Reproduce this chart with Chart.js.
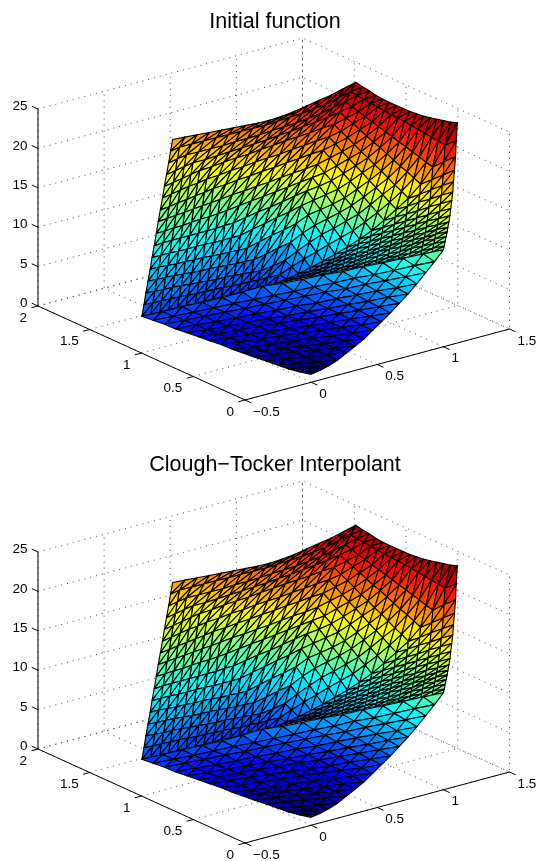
<!DOCTYPE html>
<html>
<head>
<meta charset="utf-8">
<style>
  html, body { margin: 0; padding: 0; background: #fff; overflow: hidden; }
  canvas { position: absolute; left: 0; }
</style>
<script src="https://cdn.jsdelivr.net/npm/chart.js@4/dist/chart.umd.min.js"></script>
</head>
<body>
<canvas id="chart1" width="539" height="443" style="top:0"></canvas>
<canvas id="chart2" width="539" height="418" style="top:443px"></canvas>
<script>
const titles = ["Initial function", "Clough\u2212Tocker Interpolant"];
const xTicks = [-0.5, 0, 0.5, 1, 1.5];
const xTickLabels = ["\u22120.5", "0", "0.5", "1", "1.5"];
const yTicks = [0, 0.5, 1, 1.5, 2];
const yTickLabels = ["0", "0.5", "1", "1.5", "2"];
const zTicks = [0, 5, 10, 15, 20, 25];

// every node is (i, j), x and y add up from these
const xAlongI = [0, 0.067, 0.133, 0.2, 0.267, 0.333, 0.4, 0.467, 0.533, 0.6, 0.667, 0.733, 0.8, 0.867, 0.933, 1, 1.066, 1.132, 1.198, 1.264, 1.33, 1.396, 1.462, 1.528, 1.594, 1.66, 1.726, 1.792, 1.858, 1.924, 1.99];
const yAlongI = [0, 0, 0, 0, 0, 0, 0, 0, 0, 0, 0, 0, 0, 0, 0, 0, -0.034, -0.067, -0.101, -0.135, -0.168, -0.202, -0.236, -0.269, -0.303, -0.337, -0.37, -0.404, -0.438, -0.471, -0.505];
const xAlongJ = [0, -0.037, -0.075, -0.112, -0.149, -0.187, -0.224, -0.261, -0.299, -0.336, -0.373, -0.411, -0.448, -0.485, -0.523, -0.56, -0.56, -0.56, -0.56, -0.56, -0.56, -0.56, -0.56, -0.56, -0.56, -0.56, -0.56, -0.56, -0.56, -0.56, -0.56];
const yAlongJ = [0, 0.061, 0.123, 0.184, 0.245, 0.307, 0.368, 0.429, 0.491, 0.552, 0.613, 0.675, 0.736, 0.797, 0.859, 0.92, 0.985, 1.051, 1.116, 1.181, 1.247, 1.312, 1.377, 1.443, 1.508, 1.573, 1.639, 1.704, 1.769, 1.835, 1.9];

// lower triangle, rows m, columns i: node (i, m - i)
const bottomZ = [
  [1.0],
  [1.1, 1.2],
  [1.3, 1.1, 1.5],
  [1.6, 1.3, 1.4, 1.9],
  [1.9, 1.7, 1.7, 2.0, 2.5],
  [2.2, 2.0, 2.0, 2.1, 2.5, 3.1],
  [2.5, 2.3, 2.2, 2.3, 2.6, 3.1, 3.7],
  [2.8, 2.5, 2.5, 2.6, 2.9, 3.2, 3.8, 4.5],
  [3.2, 3.0, 2.9, 3.0, 3.2, 3.5, 4.0, 4.5, 5.3],
  [3.5, 3.3, 3.3, 3.3, 3.5, 3.7, 4.1, 4.7, 5.3, 6.1],
  [3.8, 3.6, 3.6, 3.7, 3.8, 4.1, 4.4, 4.9, 5.5, 6.2, 7.0],
  [4.1, 3.9, 3.9, 3.9, 4.1, 4.3, 4.7, 5.1, 5.7, 6.3, 7.1, 7.9],
  [4.4, 4.3, 4.2, 4.3, 4.5, 4.7, 5.1, 5.4, 6.0, 6.6, 7.3, 8.0, 8.9],
  [4.8, 4.7, 4.7, 4.8, 4.9, 5.2, 5.5, 5.9, 6.4, 6.9, 7.6, 8.3, 9.1, 10.0],
  [5.1, 5.0, 5.0, 5.1, 5.3, 5.5, 5.8, 6.2, 6.7, 7.2, 7.9, 8.5, 9.3, 10.2, 11.1],
  [5.4, 5.4, 5.5, 5.6, 5.8, 6.2, 6.7, 6.9, 7.3, 7.8, 8.3, 9.0, 9.7, 10.5, 11.4, 12.3]
];
// rows t, columns s: node (15 + s, s + t)
const rightZ = [
  [12.3, 12.5, 12.8, 13.1, 13.4, 13.7, 14.1, 14.6, 15.2, 15.9, 16.7, 17.7, 18.9, 20.3, 22.0, 24.0],
  [11.8, 12.0, 12.3, 12.6, 12.9, 13.2, 13.5, 14.0, 14.6, 15.3, 16.1, 17.0, 18.1, 19.5, 21.3, 23.7],
  [11.3, 11.5, 11.8, 12.1, 12.3, 12.6, 13.0, 13.5, 14.0, 14.7, 15.4, 16.3, 17.3, 18.6, 21.4, 23.5],
  [10.8, 11.0, 11.3, 11.5, 11.8, 12.1, 12.4, 12.9, 13.4, 14.0, 14.8, 15.5, 16.5, 18.8, 21.5, 23.3],
  [10.4, 10.5, 10.7, 11.0, 11.3, 11.5, 11.9, 12.3, 12.8, 13.4, 14.1, 14.8, 16.9, 19.1, 21.6, 23.1],
  [9.9, 10.0, 10.2, 10.5, 10.7, 11.0, 11.3, 11.7, 12.2, 12.8, 13.5, 15.3, 17.3, 19.3, 21.7, 22.9],
  [9.4, 9.5, 9.7, 10.0, 10.2, 10.5, 10.8, 11.2, 11.6, 12.2, 14.0, 15.7, 17.6, 19.6, 21.8, 22.8],
  [8.9, 9.0, 9.2, 9.4, 9.6, 9.9, 10.2, 10.6, 11.0, 12.8, 14.6, 16.2, 18.0, 19.8, 21.9, 22.7],
  [8.4, 8.5, 8.7, 8.9, 9.1, 9.4, 9.7, 10.0, 11.7, 13.4, 15.1, 16.7, 18.4, 20.1, 22.0, 22.7],
  [7.9, 8.0, 8.2, 8.4, 8.6, 8.8, 9.1, 10.7, 12.3, 14.0, 15.6, 17.1, 18.8, 20.3, 22.0, 22.7],
  [7.4, 7.5, 7.7, 7.9, 8.0, 8.3, 9.9, 11.5, 13.0, 14.6, 16.2, 17.6, 19.1, 20.6, 22.1, 22.7],
  [6.9, 7.0, 7.1, 7.3, 7.5, 9.1, 10.7, 12.2, 13.6, 15.2, 16.7, 18.0, 19.5, 20.8, 22.2, 22.7],
  [6.5, 6.5, 6.6, 6.8, 8.3, 10.0, 11.5, 12.9, 14.3, 15.8, 17.2, 18.5, 19.9, 21.1, 22.3, 22.8],
  [6.0, 6.0, 6.1, 7.5, 9.1, 10.8, 12.3, 13.7, 15.0, 16.4, 17.7, 19.0, 20.3, 21.3, 22.4, 23.0],
  [5.5, 5.5, 6.6, 8.1, 9.9, 11.7, 13.1, 14.4, 15.6, 17.0, 18.3, 19.4, 20.6, 21.6, 22.5, 23.1],
  [5.0, 5.7, 7.0, 8.8, 10.7, 12.5, 13.9, 15.1, 16.3, 17.6, 18.8, 19.9, 21.0, 21.8, 22.6, 23.3]
];
// rows s, columns u: node (u + s, 15 + s)
const leftZ = [
  [5.4, 5.4, 5.3, 5.3, 5.3, 5.3, 5.2, 5.2, 5.2, 5.2, 5.1, 5.1, 5.1, 5.1, 5.0, 5.0],
  [6.2, 6.1, 6.1, 6.0, 6.0, 5.9, 5.8, 5.8, 5.7, 5.7, 5.6, 5.5, 5.5, 5.4, 5.4, 5.7],
  [7.0, 6.9, 6.8, 6.8, 6.7, 6.6, 6.5, 6.4, 6.3, 6.3, 6.2, 6.1, 6.0, 5.9, 6.4, 7.0],
  [7.8, 7.7, 7.7, 7.6, 7.5, 7.4, 7.3, 7.3, 7.2, 7.1, 7.0, 7.0, 6.9, 7.5, 8.2, 8.8],
  [8.6, 8.6, 8.5, 8.4, 8.4, 8.3, 8.3, 8.2, 8.1, 8.1, 8.0, 8.0, 8.7, 9.4, 10.0, 10.7],
  [9.4, 9.4, 9.4, 9.3, 9.3, 9.3, 9.3, 9.2, 9.2, 9.2, 9.2, 9.9, 10.5, 11.2, 11.8, 12.5],
  [10.2, 10.3, 10.3, 10.3, 10.3, 10.3, 10.3, 10.3, 10.4, 10.4, 11.0, 11.6, 12.1, 12.7, 13.3, 13.9],
  [11.1, 11.1, 11.2, 11.2, 11.3, 11.4, 11.4, 11.5, 11.6, 12.1, 12.6, 13.1, 13.6, 14.1, 14.6, 15.1],
  [11.9, 12.0, 12.1, 12.2, 12.3, 12.4, 12.5, 12.6, 13.1, 13.5, 14.0, 14.4, 14.9, 15.4, 15.8, 16.3],
  [12.7, 12.8, 13.0, 13.1, 13.3, 13.4, 13.6, 14.0, 14.5, 14.9, 15.4, 15.8, 16.3, 16.7, 17.2, 17.6],
  [13.5, 13.7, 13.9, 14.1, 14.2, 14.4, 14.8, 15.3, 15.7, 16.2, 16.6, 17.0, 17.5, 17.9, 18.4, 18.8],
  [14.3, 14.5, 14.7, 14.9, 15.1, 15.5, 16.0, 16.4, 16.8, 17.3, 17.7, 18.2, 18.6, 19.0, 19.5, 19.9],
  [15.1, 15.3, 15.5, 15.7, 16.0, 16.4, 16.8, 17.2, 17.6, 18.0, 18.5, 18.9, 19.4, 19.9, 20.4, 21.0],
  [15.9, 16.1, 16.3, 16.6, 16.9, 17.2, 17.6, 17.9, 18.3, 18.7, 19.1, 19.5, 20.0, 20.5, 21.1, 21.8],
  [16.7, 16.9, 17.2, 17.5, 17.8, 18.1, 18.4, 18.7, 19.0, 19.4, 19.8, 20.2, 20.7, 21.2, 21.9, 22.6],
  [17.5, 17.7, 17.9, 18.1, 18.3, 18.5, 18.7, 18.9, 19.2, 19.6, 20.1, 20.7, 21.3, 21.9, 22.6, 23.3]
];

const fontFamily = "'Liberation Sans', Arial, sans-serif";
const titleHeight = 9.5 + 21.5 * 1.2 + 4;

// camera: turns a data point into the two flat values the scales work with
const project = (x, y, z) => ({
  x: 245 + (x + 0.5) * 132.25 - y * 103.5,
  y: 400 - (x + 0.5) * 35.5 - y * 47 - z * 7.88,
});
const depth = (x, y, z) => -97.3 * x - 124.4 * y + 2.85 * z;

const jet = (t) => {
  const level = (Math.min(63, Math.floor(t * 64)) + 0.5) / 64;
  const c = (v) => Math.round(255 * Math.max(0, Math.min(1, 1.5 - Math.abs(4 * level - v))));
  return `rgb(${c(3)},${c(2)},${c(1)})`;
};

const node = (i, j, z) => ({
  x: xAlongI[i] + xAlongJ[j],
  y: yAlongI[i] + yAlongJ[j],
  z: z,
});

// the lower triangle is not quite on the additive grid, its middle sits further in
const bottomNode = (i, m, z) => {
  const n = node(i, m - i, z);
  if (m === 0) return n;
  const t = i / m;
  const bulge = 8 * t * (1 - t) * (m / 15);
  return { x: n.x + 0.082 * bulge, y: n.y + 0.105 * bulge, z: z };
};

const buildMesh = (bottom, right, left) => {
  const tris = [];
  const addPatch = (table, toNode, slash) => {
    for (let r = 0; r < 15; r++) {
      for (let c = 0; c < 15; c++) {
        const a = toNode(c, r, table[r][c]);
        const b = toNode(c + 1, r, table[r][c + 1]);
        const d = toNode(c, r + 1, table[r + 1][c]);
        const e = toNode(c + 1, r + 1, table[r + 1][c + 1]);
        if (slash) {
          tris.push([a, b, e], [a, e, d]);
        } else {
          tris.push([a, b, d], [b, e, d]);
        }
      }
    }
  };
  for (let m = 0; m < 15; m++) {
    for (let i = 0; i <= m; i++) {
      const a = bottomNode(i, m, bottom[m][i]);
      const d = bottomNode(i, m + 1, bottom[m + 1][i]);
      const e = bottomNode(i + 1, m + 1, bottom[m + 1][i + 1]);
      tris.push([a, d, e]);
      if (i < m) {
        const b = bottomNode(i + 1, m, bottom[m][i + 1]);
        tris.push([a, b, e]);
      }
    }
  }
  addPatch(right, (c, r, z) => node(15 + c, c + r, z), false);
  addPatch(left, (c, r, z) => node(c + r, 15 + r, z), true);
  return tris;
};

const surfacePlugin = {
  id: "surface3d",
  beforeDatasetsDraw(chart) {
    const ctx = chart.ctx;
    const px = (p) => {
      const f = project(p[0], p[1], p[2]);
      return [chart.scales.x.getPixelForValue(f.x), chart.scales.y.getPixelForValue(f.y)];
    };
    const line = (points) => {
      ctx.beginPath();
      points.forEach((p, n) => {
        const q = px(p);
        if (n === 0) ctx.moveTo(q[0], q[1]);
        else ctx.lineTo(q[0], q[1]);
      });
      ctx.stroke();
    };
    const xMin = xTicks[0], xMax = xTicks[xTicks.length - 1];
    const yMin = yTicks[0], yMax = yTicks[yTicks.length - 1];
    const zMin = zTicks[0], zMax = zTicks[zTicks.length - 1];

    ctx.save();
    // dotted grid on the two back walls and the floor
    ctx.strokeStyle = "#444";
    ctx.lineWidth = 1;
    ctx.setLineDash([1, 5]);
    zTicks.forEach((z) => line([[xMin, yMax, z], [xMax, yMax, z], [xMax, yMin, z]]));
    xTicks.forEach((x) => line([[x, yMin, zMin], [x, yMax, zMin], [x, yMax, zMax]]));
    yTicks.forEach((y) => line([[xMin, y, zMin], [xMax, y, zMin], [xMax, y, zMax]]));
    ctx.setLineDash([]);

    // axes and ticks
    ctx.strokeStyle = "#000";
    line([[xMin, yMin, zMin], [xMax, yMin, zMin]]);
    line([[xMin, yMin, zMin], [xMin, yMax, zMin]]);
    line([[xMin, yMax, zMin], [xMin, yMax, zMax]]);
    xTicks.forEach((x) => line([[x, yMin, zMin], [x, yMin - 0.06, zMin]]));
    yTicks.forEach((y) => line([[xMin, y, zMin], [xMin - 0.05, y, zMin]]));
    zTicks.forEach((z) => line([[xMin, yMax, z], [xMin, yMax + 0.06, z]]));

    // surface, far triangles first, one flat colour each
    const mesh = chart.config.options.surfaceMesh;
    const all = mesh.flat().map((n) => n.z);
    const lo = Math.min(...all), hi = Math.max(...all);
    const ordered = mesh
      .map((t) => ({
        t,
        d: t.reduce((s, n) => s + depth(n.x, n.y, n.z), 0),
        z: t.reduce((s, n) => s + n.z, 0) / 3,
      }))
      .sort((m, n) => m.d - n.d);
    ctx.lineJoin = "round";
    ctx.lineWidth = 1.1;
    ordered.forEach(({ t, z }) => {
      ctx.beginPath();
      t.forEach((n, k) => {
        const q = px([n.x, n.y, n.z]);
        if (k === 0) ctx.moveTo(q[0], q[1]);
        else ctx.lineTo(q[0], q[1]);
      });
      ctx.closePath();
      ctx.fillStyle = jet((z - lo) / (hi - lo));
      ctx.fill();
      ctx.stroke();
    });

    // tick labels
    ctx.fillStyle = "#000";
    ctx.font = `13.5px ${fontFamily}`;
    ctx.textBaseline = "middle";
    ctx.textAlign = "left";
    xTicks.forEach((x, n) => {
      const q = px([x, yMin, zMin]);
      ctx.fillText(xTickLabels[n], q[0] + 8, q[1] + 12);
    });
    ctx.textAlign = "right";
    yTicks.forEach((y, n) => {
      const q = px([xMin, y, zMin]);
      ctx.fillText(yTickLabels[n], q[0] - 11, q[1] + 12);
    });
    zTicks.forEach((z) => {
      const q = px([xMin, yMax, z]);
      ctx.fillText(String(z), q[0] - 10.5, q[1] - 2.5);
    });
    ctx.restore();
  },
};

const makeChart = (id, title, height, mesh) => {
  const nodes = [];
  mesh.forEach((t) => t.forEach((n) => nodes.push(project(n.x, n.y, n.z))));
  return new Chart(document.getElementById(id), {
    type: "scatter",
    data: { datasets: [{ data: nodes, pointRadius: 0, showLine: false }] },
    options: {
      responsive: false,
      animation: false,
      surfaceMesh: mesh,
      layout: { padding: { left: 11 } },
      plugins: {
        legend: { display: false },
        tooltip: { enabled: false },
        title: {
          display: true,
          text: title,
          color: "#000",
          font: { family: fontFamily, size: 21.5, weight: "normal" },
          padding: { top: 9.5, bottom: 4 },
        },
      },
      scales: {
        x: { type: "linear", display: false, min: 11, max: 539 },
        y: { type: "linear", display: false, reverse: true, min: titleHeight, max: height },
      },
    },
    plugins: [surfacePlugin],
  });
};

makeChart("chart1", titles[0], 443, buildMesh(bottomZ, rightZ, leftZ));
makeChart("chart2", titles[1], 418, buildMesh(bottomZ, rightZ, leftZ));
</script>
</body>
</html>
